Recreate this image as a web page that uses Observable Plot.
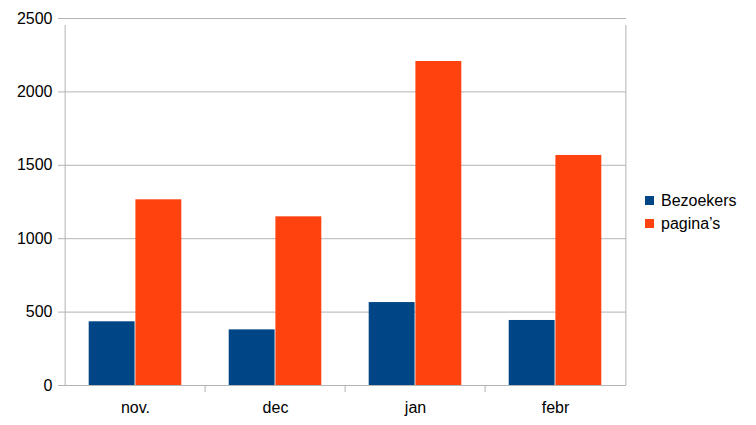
<!DOCTYPE html>
<html><head><meta charset="utf-8">
<script src="https://cdn.jsdelivr.net/npm/d3@7"></script>
<script src="https://cdn.jsdelivr.net/npm/@observablehq/plot@0.6"></script>
<style>
body{margin:0;background:#fff;font-family:"Liberation Sans",Arial,sans-serif;}
#wrap{position:relative;width:756px;height:425px;}
#legend{position:absolute;left:645px;top:189px;font-size:16px;color:#000;}
.item{display:flex;align-items:center;height:23px;}
.sw{width:9px;height:9px;margin-right:7px;flex:none;}
</style></head><body><div id="wrap"><div id="legend"></div></div>
<script>
const months = ["nov.", "dec", "jan", "febr"];
const seriesNames = ["Bezoekers", "pagina’s"];
const bezoekers = [434, 379, 565, 443];
const paginas = [1265, 1149, 2207, 1567];
const yTicks = [0, 500, 1000, 1500, 2000, 2500];
const colors = ["#004586", "#ff420e"];

const W = 756, H = 425, mL = 63, mR = 130, mT = 18, mB = 40;
const step = (W - mL - mR) / months.length;
const bezData = months.map((m, i) => ({month: m, value: bezoekers[i]}));
const pagData = months.map((m, i) => ({month: m, value: paginas[i]}));
const grid = "#b3b3b3";

const chart = Plot.plot({
  width: W, height: H,
  marginLeft: mL, marginRight: mR, marginTop: mT, marginBottom: mB,
  style: {fontFamily: "'Liberation Sans', Arial, sans-serif", fontSize: "16px", color: "#000", background: "#fff"},
  x: {type: "band", domain: months, padding: 0, label: null},
  y: {domain: [0, 2500], ticks: yTicks, label: null},
  marks: [
    Plot.gridY(yTicks, {stroke: grid, strokeOpacity: 1}),
    Plot.barY(bezData, {x: "month", y: "value", fill: colors[0], insetLeft: 23.7, insetRight: 70.4}),
    Plot.barY(pagData, {x: "month", y: "value", fill: colors[1], insetLeft: 70.4, insetRight: 23.7}),
    Plot.ruleX(months.slice(1), {x: d => d, dx: -step / 2, y1: 0, y2: 0, insetBottom: -7, stroke: grid}),
    Plot.ruleX(months.slice(0, 1), {x: d => d, dx: -step / 2, y1: 0, y2: 2500, insetBottom: -7, stroke: grid}),
    Plot.ruleX(months.slice(-1), {x: d => d, dx: step / 2, y1: 0, y2: 2500, insetBottom: -7, stroke: grid}),
    Plot.axisY(yTicks, {tickSize: 5, tickPadding: 6, stroke: grid, fill: "#000", fontSize: 16, tickFormat: d => String(d), label: null}),
    Plot.axisX({tickSize: 0, tickPadding: 16, fill: "#000", fontSize: 16, label: null})
  ]
});
document.getElementById("wrap").prepend(chart);

const leg = document.getElementById("legend");
seriesNames.forEach((s, i) => {
  const it = document.createElement("div");
  it.className = "item";
  const sw = document.createElement("span");
  sw.className = "sw"; sw.style.background = colors[i];
  const t = document.createElement("span");
  t.textContent = s;
  it.append(sw, t);
  leg.append(it);
});
</script></body></html>
